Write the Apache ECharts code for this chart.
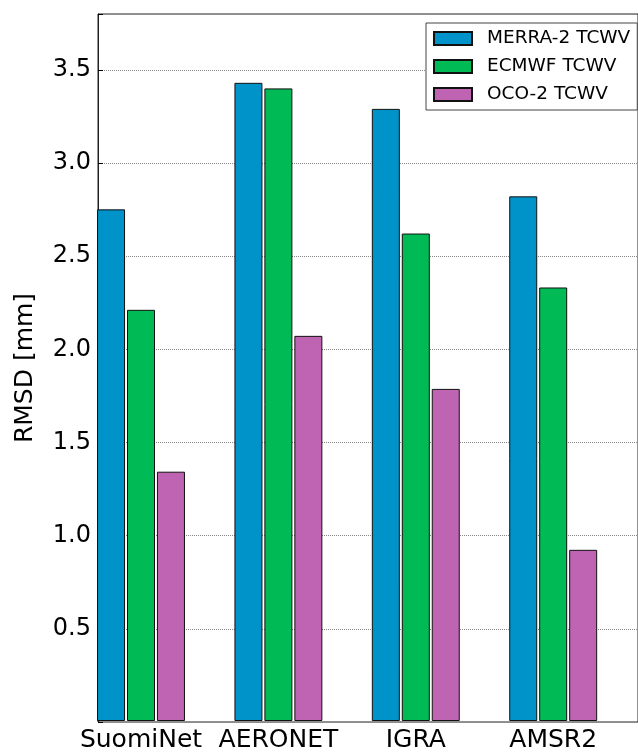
<!DOCTYPE html>
<html>
<head>
<meta charset="utf-8">
<script src="https://cdn.jsdelivr.net/npm/echarts@6/dist/echarts.min.js"></script>
<style>
html,body{margin:0;padding:0;background:#fff;}
#chart{width:638px;height:753px;}
</style>
</head>
<body>
<div id="chart"></div>
<script>
const categories = ['SuomiNet', 'AERONET', 'IGRA', 'AMSR2'];
const seriesNames = ['MERRA-2 TCWV', 'ECMWF TCWV', 'OCO-2 TCWV'];
const merra2 = [2.75, 3.43, 3.29, 2.82];
const ecmwf = [2.21, 3.40, 2.62, 2.33];
const oco2 = [1.34, 2.07, 1.785, 0.92];
const yTicks = [0.5, 1.0, 1.5, 2.0, 2.5, 3.0, 3.5];
const colors = ['#0093C9', '#00BA55', '#BE64B3'];

const font = 'DejaVu Sans';
const chart = echarts.init(document.getElementById('chart'), null, {renderer: 'canvas'});

const seriesData = [merra2, ecmwf, oco2];
const series = seriesData.map((d, i) => ({
  name: seriesNames[i],
  type: 'bar',
  xAxisIndex: 1,
  yAxisIndex: 1,
  data: d,
  barWidth: 28,
  barGap: '7%',
  itemStyle: {color: colors[i], borderColor: '#111', borderWidth: 1},
  emphasis: {disabled: true}
}));

chart.setOption({
  animation: false,
  textStyle: {fontFamily: font},
  grid: [
    {left: 98, top: 14, width: 560, height: 708, show: true, borderColor: '#222', borderWidth: 1, backgroundColor: 'transparent'},
    {left: 72.3, top: 14, width: 549.6, height: 708}
  ],
  xAxis: [
    {gridIndex: 0, type: 'value', show: false, min: 0, max: 1},
    {gridIndex: 1, type: 'category', data: categories,
     axisLine: {show: false}, axisTick: {show: false},
     axisLabel: {interval: 0, fontSize: 25, color: '#000', margin: 7, fontFamily: font}}
  ],
  yAxis: [
    {gridIndex: 0, type: 'value', min: 0, max: 3.8, interval: 0.5,
     name: 'RMSD [mm]', nameLocation: 'middle', nameGap: 60,
     nameTextStyle: {fontSize: 25, color: '#000', fontFamily: font},
     axisLine: {show: true, lineStyle: {color: '#222', width: 1}},
     axisTick: {show: true, inside: true, length: 5, lineStyle: {color: '#000'}},
     axisLabel: {fontSize: 24, color: '#000', margin: 7, fontFamily: font,
       formatter: v => yTicks.some(t => Math.abs(t - v) < 1e-6) ? v.toFixed(1) : ''},
     splitLine: {show: true, lineStyle: {color: '#888', type: [1, 1], width: 1}}},
    {gridIndex: 1, type: 'value', min: 0, max: 3.8, show: false}
  ],
  legend: {
    orient: 'vertical',
    left: 426, top: 23,
    icon: 'rect',
    itemWidth: 38, itemHeight: 13, itemGap: 9,
    padding: [6, 7, 6, 7],
    borderColor: '#444', borderWidth: 1,
    backgroundColor: '#fff',
    textStyle: {fontSize: 18.5, color: '#000', lineHeight: 18, fontFamily: font, padding: [0, 0, 0, 10]},
    data: seriesNames
  },
  series: series
});
</script>
</body>
</html>
